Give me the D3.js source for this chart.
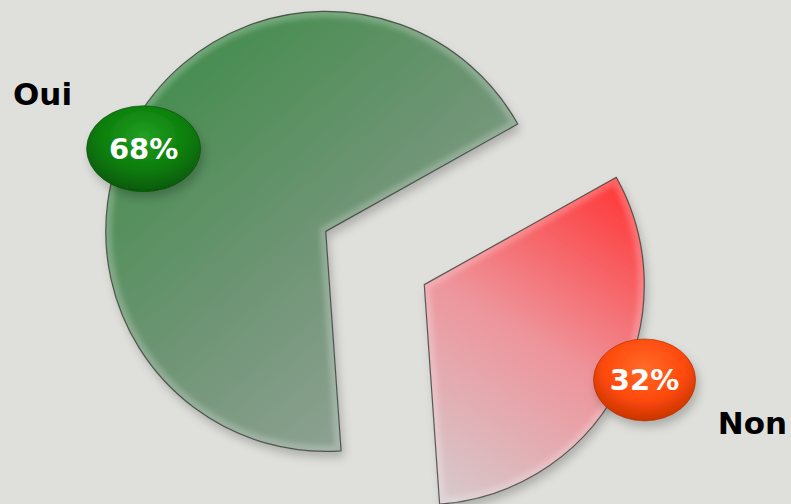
<!DOCTYPE html>
<html>
<head>
<meta charset="utf-8">
<script src="https://cdn.jsdelivr.net/npm/d3@7"></script>
<style>
  html, body { margin: 0; padding: 0; background: #dfe0db; }
  svg { display: block; }
</style>
</head>
<body>
<div id="chart"></div>
<script>
// exploded pie, two slices — Oui / Non
const categories = ['Oui', 'Non'];
const values = [68, 32];
const valueLabels = ['68%', '32%'];

const W = 791, H = 504;
const cx = 375, cy = 258;
const R = 220;
const explode = 56;
const start = 176 * Math.PI / 180;

const svg = d3.select('#chart').append('svg')
  .attr('width', W).attr('height', H);

svg.append('rect').attr('width', W).attr('height', H).attr('fill', '#dfe0db');

const defs = svg.append('defs');

// soft shadow under slices and bubbles
const shadow = defs.append('filter').attr('id', 'shadow')
  .attr('x', '-20%').attr('y', '-20%').attr('width', '140%').attr('height', '140%');
shadow.append('feDropShadow')
  .attr('dx', 3).attr('dy', 6).attr('stdDeviation', 5)
  .attr('flood-color', '#000').attr('flood-opacity', 0.22);

const blur = defs.append('filter').attr('id', 'bevelBlur');
blur.append('feGaussianBlur').attr('stdDeviation', 2.5);

const pie = d3.pie().sort(null).startAngle(start).endAngle(start + 2 * Math.PI);
const arcs = pie(values);
const arc = d3.arc().innerRadius(0).outerRadius(R);

const offset = d => {
  const a = (d.startAngle + d.endAngle) / 2;
  return [cx + explode * Math.sin(a), cy - explode * Math.cos(a)];
};

// slice gradients, in each slice's own (translated) space
const gradSpec = [
  { from: [-210, -150], to: [110, 230], stops: ['#428c4b', '#6f9575', '#9aa69f'] },
  { from: [206, -100], to: [6, 205], stops: ['#ff3535', '#ee949b', '#d6c9cc'] }
];
gradSpec.forEach((s, i) => {
  const lg = defs.append('linearGradient').attr('id', 'grad-' + i)
    .attr('gradientUnits', 'userSpaceOnUse')
    .attr('x1', s.from[0]).attr('y1', s.from[1])
    .attr('x2', s.to[0]).attr('y2', s.to[1]);
  s.stops.forEach((c, k) => lg.append('stop').attr('offset', k / 2).attr('stop-color', c));
});

// bubble gradients
const bubbleColors = [
  ['#23a023', '#0b7d0b', '#065a06'],
  ['#ff6a2a', '#ff4a0c', '#c83400']
];
bubbleColors.forEach((c, i) => {
  const rg = defs.append('radialGradient').attr('id', 'bub-' + i)
    .attr('cx', '50%').attr('cy', '35%').attr('r', '65%');
  rg.append('stop').attr('offset', 0).attr('stop-color', c[0]);
  rg.append('stop').attr('offset', 0.6).attr('stop-color', c[1]);
  rg.append('stop').attr('offset', 1).attr('stop-color', c[2]);
});

const slices = svg.append('g').selectAll('g.slice')
  .data(arcs).join('g').attr('class', 'slice')
  .attr('transform', d => `translate(${offset(d)})`);

slices.each(function (d, i) {
  const g = d3.select(this);
  defs.append('clipPath').attr('id', 'clip-' + i)
    .append('path').attr('d', arc(d))
    .attr('transform', `translate(${offset(d)})`);
  g.append('path')
    .attr('d', arc(d))
    .attr('fill', `url(#grad-${i})`)
    .attr('filter', 'url(#shadow)');
  // bevel highlight along the edges
  svg.append('g').attr('clip-path', `url(#clip-${i})`)
    .append('path')
    .attr('transform', `translate(${offset(d)})`)
    .attr('d', arc(d))
    .attr('fill', 'none')
    .attr('stroke', '#ffffff').attr('stroke-opacity', 0.22)
    .attr('stroke-width', 12)
    .attr('filter', 'url(#bevelBlur)');
});

// outlines on top of bevel
svg.append('g').selectAll('path')
  .data(arcs).join('path')
  .attr('transform', d => `translate(${offset(d)})`)
  .attr('d', arc)
  .attr('fill', 'none')
  .attr('stroke', '#2e332e').attr('stroke-opacity', 0.75)
  .attr('stroke-width', 1.2)
  .attr('stroke-linejoin', 'round');

// value bubbles
const bubbleR = [200, 240];
const bubbleShift = [-4, -5].map(a => a * Math.PI / 180);
const bubbleSize = [[57, 43], [51, 41]];

const bubbles = svg.append('g').selectAll('g.bubble')
  .data(arcs).join('g').attr('class', 'bubble')
  .attr('transform', (d, i) => {
    const [ox, oy] = offset(d);
    const a = (d.startAngle + d.endAngle) / 2 + bubbleShift[i];
    return `translate(${ox + bubbleR[i] * Math.sin(a)},${oy - bubbleR[i] * Math.cos(a)})`;
  });

bubbles.append('ellipse')
  .attr('rx', (d, i) => bubbleSize[i][0])
  .attr('ry', (d, i) => bubbleSize[i][1])
  .attr('fill', (d, i) => `url(#bub-${i})`)
  .attr('stroke', (d, i) => i === 0 ? '#0a4a0a' : '#a02a00')
  .attr('stroke-opacity', 0.6)
  .attr('filter', 'url(#shadow)');

bubbles.append('text')
  .attr('text-anchor', 'middle')
  .attr('dy', '0.36em')
  .attr('font-family', 'DejaVu Sans, Verdana, sans-serif')
  .attr('font-weight', 'bold')
  .attr('font-size', 29)
  .attr('fill', '#ffffff')
  .text((d, i) => valueLabels[i]);

// category names
const namePos = [[13, 105, 'start'], [787, 434, 'end']];
svg.append('g').selectAll('text')
  .data(categories).join('text')
  .attr('x', (d, i) => namePos[i][0])
  .attr('y', (d, i) => namePos[i][1])
  .attr('text-anchor', (d, i) => namePos[i][2])
  .attr('font-family', 'DejaVu Sans, Verdana, sans-serif')
  .attr('font-weight', 'bold')
  .attr('font-size', 31)
  .attr('fill', '#000000')
  .text(d => d);
</script>
</body>
</html>
